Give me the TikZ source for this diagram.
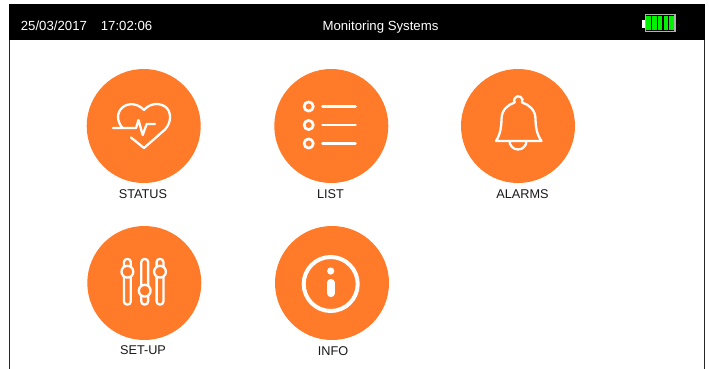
\documentclass[tikz,border=0pt]{standalone}
\usepackage{fontspec}
\setmainfont{Liberation Sans}
\definecolor{tile}{HTML}{FF7A29}
\tikzset{
  x=1pt,y=-1pt,
  tilecircle/.style={circle,fill=tile,draw=none,minimum size=114pt,inner sep=0pt},
  caption/.style={font=\fontsize{12.7}{14}\selectfont,text=black!90,inner sep=0pt},
  barhead/.style={font=\fontsize{13.2}{14}\selectfont,text=white,inner sep=0pt},
  glyph/.style={draw=white,line width=2.3pt,line cap=round,line join=round},
  glyphthick/.style={draw=white,line width=2.7pt,line cap=round,line join=round}
}
\begin{document}
\begin{tikzpicture}
\useasboundingbox (0,0) rectangle (709,369);
\fill[white] (0,0) rectangle (709,369);
% frame and header bar
\fill[black] (9,4) rectangle (704.5,40);
\draw[black!85,line width=1.2pt] (9.7,40) -- (9.7,369);
\draw[black!85,line width=1pt] (704.2,40) -- (704.2,369);
\node[barhead,anchor=base west] (date) at (20.7,31) {25/03/2017};
\node[barhead,anchor=base west] (time) at (100.7,31) {17:02:06};
\node[barhead,anchor=base] (title) at (380.5,31) {Monitoring Systems};
% battery
\fill[white] (642,20) rectangle (645,27.7);
\draw[black!30,line width=1.2pt,fill=black] (645.2,14.6) rectangle (675,31.8);
\foreach \bx in {646.3,652,657.8,663.7,669.4}{
  \fill[green!95!black] (\bx,16) rectangle (\bx+4.6,30.3);
}
% tiles
\node[tilecircle] (status) at (143.7,126) {};
\node[tilecircle] (list) at (331.3,126) {};
\node[tilecircle] (alarms) at (518,126) {};
\node[tilecircle] (setup) at (144.3,283) {};
\node[tilecircle] (info) at (332,283) {};
% captions
\node[caption] (lstatus) at (143,194) {STATUS};
\node[caption] (llist) at (330.5,194) {LIST};
\node[caption] (lalarms) at (522.5,194) {ALARMS};
\node[caption] (lsetup) at (143,350) {SET-UP};
\node[caption] (linfo) at (333,351.5) {INFO};
% heart
\draw[glyph] (131,137.5) -- (144,148) -- (165,129.5)
  .. controls (172,122) and (171.5,111) .. (165,106.5)
  .. controls (158,102) and (149,104) .. (144,110)
  .. controls (138,103.5) and (129,102.5) .. (123,107)
  .. controls (116.5,112) and (116.5,121) .. (122.5,128);
\draw[glyph] (113,128) -- (136,128) -- (138.5,120) -- (142.7,135) -- (146.7,124) -- (155,124);
% list
\foreach \yy in {106.5,125,143.5}{
  \draw[glyphthick] (308.7,\yy) circle (4.6);
  \draw[glyphthick] (322.5,\yy) -- (355.5,\yy);
}
% bell
\draw[glyph] (509.5,141) arc[start angle=180,end angle=0,radius=8.5];
\draw[glyph] (496,141) -- (541.5,141)
  .. controls (536.5,134) and (535.5,126) .. (535.5,119)
  .. controls (535.5,110) and (529,104.5) .. (522,102.5)
  arc[start angle=30,end angle=-210,radius=4.2]
  .. controls (508,104.5) and (501.5,110) .. (501.5,119)
  .. controls (501.5,126) and (500.5,134) .. (496,141) -- cycle;
% sliders
\foreach \sx in {127.4,144.7,160}{
  \draw[glyph,rounded corners=3pt,fill=tile] (\sx-3.4,259) rectangle (\sx+3.4,304.5);
}
\foreach \sx/\ky in {127.4/271.7,144.7/290.7,160/271.7}{
  \draw[glyph,fill=tile] (\sx,\ky) circle (5.9);
}
% info
\draw[white,line width=4pt] (330.7,284) circle (27);
\fill[white] (330.7,271) circle (3.6);
\draw[white,line width=7.6pt,line cap=round] (330.7,282.7) -- (330.7,293.3);
\end{tikzpicture}
\end{document}
